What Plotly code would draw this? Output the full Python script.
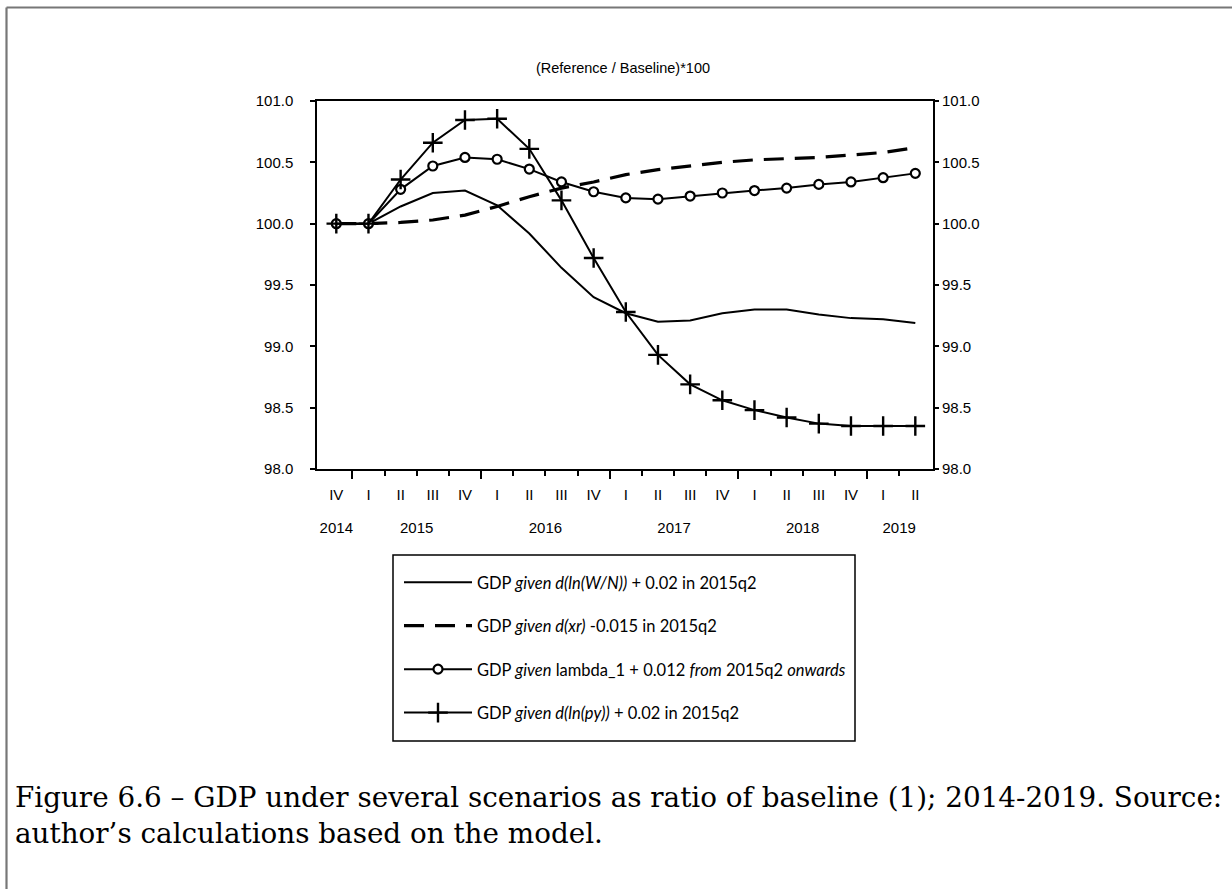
import plotly.graph_objects as go

# ---------------- data ----------------
quarters = ["IV", "I", "II", "III", "IV", "I", "II", "III", "IV", "I",
            "II", "III", "IV", "I", "II", "III", "IV", "I", "II"]
years = ["2014", "2015", "2016", "2017", "2018", "2019"]
year_first_idx = [0, 1, 5, 9, 13, 17]   # index of first quarter of each year
year_last_idx = [0, 4, 8, 12, 16, 18]   # index of last quarter of each year

gdp_wn = [100.00, 100.00, 100.14, 100.25, 100.27, 100.15, 99.92, 99.64, 99.40, 99.27,
          99.20, 99.21, 99.27, 99.30, 99.30, 99.26, 99.23, 99.22, 99.19]
gdp_xr = [100.00, 100.00, 100.01, 100.03, 100.07, 100.14, 100.22, 100.29, 100.34, 100.40,
          100.44, 100.47, 100.50, 100.52, 100.53, 100.54, 100.56, 100.58, 100.62]
gdp_lambda = [100.00, 100.00, 100.28, 100.47, 100.54, 100.525, 100.445, 100.34, 100.26, 100.21,
              100.20, 100.225, 100.25, 100.27, 100.29, 100.32, 100.34, 100.375, 100.41]
gdp_py = [100.00, 100.00, 100.36, 100.66, 100.845, 100.855, 100.61, 100.19, 99.72, 99.28,
          98.93, 98.69, 98.56, 98.48, 98.42, 98.37, 98.35, 98.35, 98.35]

names = [
    "GDP <i>given d(ln(W/N))</i> + 0.02 in 2015q2",
    "GDP <i>given d(xr)</i> -0.015 in 2015q2",
    "GDP <i>given</i> lambda_1 + 0.012 <i>from</i> 2015q2 <i>onwards</i>",
    "GDP <i>given d(ln(py))</i> + 0.02 in 2015q2",
]
y_ticks = [98.0, 98.5, 99.0, 99.5, 100.0, 100.5, 101.0]
title_text = "(Reference / Baseline)*100"
caption = ("Figure 6.6 – GDP under several scenarios as ratio of baseline (1); 2014-2019. Source:"
           "<br>author’s calculations based on the model.")

# ---------------- layout geometry (pixels) ----------------
W, H = 1232, 889
L, R, T, B = 317, 299, 101, 420
PW, PH = W - L - R, H - T - B


def px(xp):
    return (xp - L) / PW


def py(yp):
    return 1 - (yp - T) / PH


x = list(range(len(quarters)))

fig = go.Figure()
fig.add_trace(go.Scatter(x=x, y=gdp_wn, name=names[0], mode="lines",
                         line=dict(color="black", width=2), legendgroup="a"))
fig.add_trace(go.Scatter(x=x, y=gdp_xr, name=names[1], mode="lines",
                         line=dict(color="black", width=3.2, dash="20px,11px"), legendgroup="b"))
fig.add_trace(go.Scatter(x=x, y=gdp_lambda, name=names[2], mode="lines+markers",
                         line=dict(color="black", width=2),
                         marker=dict(symbol="circle", size=9, color="white",
                                     line=dict(color="black", width=2.2)),
                         legendgroup="c"))
fig.add_trace(go.Scatter(x=x, y=gdp_py, name=names[3], mode="lines+markers",
                         line=dict(color="black", width=2),
                         marker=dict(symbol="cross-thin", size=14, color="black",
                                     line=dict(color="black", width=2.4)),
                         legendgroup="d"))

year_centres = [(a + b) / 2 for a, b in zip(year_first_idx, year_last_idx)]
boundaries = [i + 0.5 for i in x[:-1]]
year_bounds = [a - 0.5 for a in year_first_idx[1:]]
xr = [-0.6, 18.55]
yr_range = [98.0, 101.0]

tickfont = dict(family="Liberation Sans, Arial, sans-serif", size=15, color="black")

fig.update_layout(
    width=W, height=H,
    margin=dict(l=L, r=R, t=T, b=B, autoexpand=False),
    paper_bgcolor="white", plot_bgcolor="white",
    showlegend=True,
    title=dict(text=title_text, x=px(623), xanchor="center", xref="paper",
               y=1 - 68 / H, yanchor="middle", yref="container",
               font=dict(family="Liberation Sans, Arial, sans-serif", size=14.5, color="black")),
    # quarter labels + small ticks at every quarter boundary
    xaxis=dict(range=xr, tickmode="array", tickvals=x, ticktext=quarters,
               ticks="", tickfont=tickfont, ticklabelstandoff=11,
               showline=True, linecolor="black", linewidth=1.5, mirror=True,
               showgrid=False, zeroline=False,
               minor=dict(tickmode="array", tickvals=boundaries, ticks="outside",
                          ticklen=5, tickwidth=1.5, tickcolor="black", showgrid=False)),
    # longer ticks at year boundaries
    xaxis2=dict(range=xr, overlaying="x", anchor="y", side="bottom",
                tickmode="array", tickvals=year_bounds, ticks="outside", ticklen=9,
                tickwidth=1.5, tickcolor="black", showticklabels=False,
                showline=False, showgrid=False, zeroline=False),
    # year labels centred under their quarters
    xaxis3=dict(range=xr, overlaying="x", anchor="y", side="bottom",
                tickmode="array", tickvals=year_centres, ticktext=years, ticks="",
                tickfont=tickfont, ticklabelstandoff=48,
                showline=False, showgrid=False, zeroline=False),
    yaxis=dict(range=yr_range, tickmode="array", tickvals=y_ticks, tickformat=".1f",
               ticks="outside", ticklen=5, tickwidth=1.5, tickcolor="black",
               ticklabelstandoff=14,
               tickfont=tickfont, showline=True, linecolor="black", linewidth=1.5,
               mirror=True, showgrid=False, zeroline=False),
    yaxis2=dict(range=yr_range, overlaying="y", side="right", anchor="x",
                tickmode="array", tickvals=y_ticks, tickformat=".1f",
                ticks="outside", ticklen=5, tickwidth=1.5, tickcolor="black",
                tickfont=tickfont, showline=False, showgrid=False, zeroline=False),
    legend=dict(x=px(399), y=py(565), xanchor="left", yanchor="top",
                bgcolor="rgba(0,0,0,0)", borderwidth=0, itemwidth=68,
                tracegroupgap=19,
                font=dict(family="Lato, sans-serif", size=16.5, color="black")),
)

# invisible traces so the overlay axes are drawn
fig.add_trace(go.Scatter(x=[xr[0]], y=[yr_range[0]], xaxis="x2", yaxis="y2",
                         mode="markers", marker=dict(opacity=0), showlegend=False,
                         hoverinfo="skip"))
fig.add_trace(go.Scatter(x=[xr[0]], y=[yr_range[0]], xaxis="x3", yaxis="y",
                         mode="markers", marker=dict(opacity=0), showlegend=False,
                         hoverinfo="skip"))

shapes = [
    # legend frame
    dict(type="rect", xref="paper", yref="paper", x0=px(393), x1=px(855),
         y0=py(555), y1=py(741), line=dict(color="black", width=1.5)),
    # outer page frame (top and left)
    dict(type="line", xref="paper", yref="paper", x0=px(6.5), x1=px(1240),
         y0=py(7.5), y1=py(7.5), line=dict(color="#777777", width=2.2)),
    dict(type="line", xref="paper", yref="paper", x0=px(6.5), x1=px(6.5),
         y0=py(7.5), y1=py(900), line=dict(color="#777777", width=2.2)),
]
fig.update_layout(shapes=shapes)

fig.add_annotation(text=caption, xref="paper", yref="paper", x=px(13), y=py(815),
                   xanchor="left", yanchor="middle", align="left", showarrow=False,
                   font=dict(family="DejaVu Serif, serif", size=27.8, color="black"))

fig.write_html("out.html", config={"displayModeBar": False},
               post_script="document.body.style.margin='0';")
